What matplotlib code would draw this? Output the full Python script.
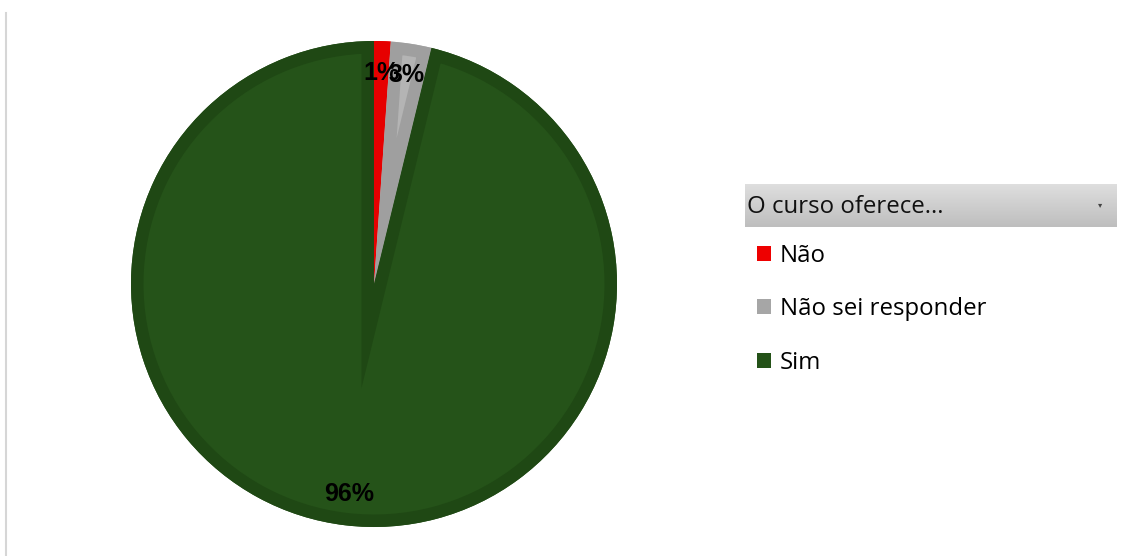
import numpy as np
import matplotlib
matplotlib.use("Agg")
import matplotlib.pyplot as plt
from matplotlib.patches import Patch, Wedge
from matplotlib.lines import Line2D

# ---- data ----
categories = ["Não", "Não sei responder", "Sim"]
values = [1.1, 2.7, 96.2]
face_colors = ["#ee0000", "#a6a6a6", "#245218"]
edge_colors = ["#e60000", "#9f9f9f", "#1f4814"]
inner_colors = ["#ee0000", "#b4b4b4", "#255319"]
legend_title = "O curso oferece..."

W, H = 1128, 556
fig = plt.figure(figsize=(W / 100, H / 100), dpi=100)
fig.patch.set_facecolor("white")

# pie axes: centre (374,284) px, radius 243 px
cx, cy, r = 374, 284, 243
ax = fig.add_axes([(cx - r) / W, (H - cy - r) / H, 2 * r / W, 2 * r / H])
wedges, texts, autotexts = ax.pie(
    values, colors=inner_colors, startangle=90, counterclock=False,
    radius=1, autopct="%.0f%%", pctdistance=0.87,
    wedgeprops=dict(linewidth=0),
    textprops=dict(fontsize=18, fontweight="bold", color="black",
                   family="Liberation Sans"))
ax.set_xlim(-1, 1)
ax.set_ylim(-1, 1)
ax.set_aspect("equal")
ax.axis("off")

# bevel: darker inner border clipped to each wedge
for w, ec in zip(wedges, edge_colors):
    b = Wedge(w.center, w.r, w.theta1, w.theta2, facecolor="none",
              edgecolor=ec, linewidth=18, zorder=w.get_zorder() + 0.1)
    ax.add_patch(b)
    b.set_clip_path(w)
for t in autotexts:
    t.set_zorder(5)

# legend
fs = 17.3
handles = [Patch(facecolor=c, edgecolor="none") for c in face_colors]
fig.legend(handles, categories, loc="upper left",
           bbox_to_anchor=(757 / W, 1 - 244 / H), frameon=False,
           prop=dict(family="Open Sans", size=fs),
           handlelength=0.58, handleheight=0.58, handletextpad=0.38,
           labelspacing=1.22, borderaxespad=0, borderpad=0)

# legend title box with gradient
bx0, bx1, by0, by1 = 745 / W, 1117 / W, 1 - 227 / H, 1 - 184 / H
grad = np.linspace(0, 1, 64).reshape(-1, 1)
top = np.array([0.875, 0.875, 0.875])
bot = np.array([0.745, 0.745, 0.745])
img = top + (bot - top) * grad[:, :, None]
gax = fig.add_axes([bx0, by0, bx1 - bx0, by1 - by0])
gax.imshow(img, aspect="auto", extent=(0, 1, 0, 1))
gax.axis("off")
gax.text(0.006, 0.46, legend_title, fontsize=fs, family="Open Sans",
         ha="left", va="center", color="#111111")
gax.text(0.955, 0.52, "▾", fontsize=6, ha="center", va="center",
         color="#444444", family="DejaVu Sans")

# left border line
fig.add_artist(Line2D([6 / W, 6 / W], [0, 1 - 13 / H], color="#d6d6d6",
                      linewidth=1.5, transform=fig.transFigure))

fig.savefig("out.png", dpi=100)
